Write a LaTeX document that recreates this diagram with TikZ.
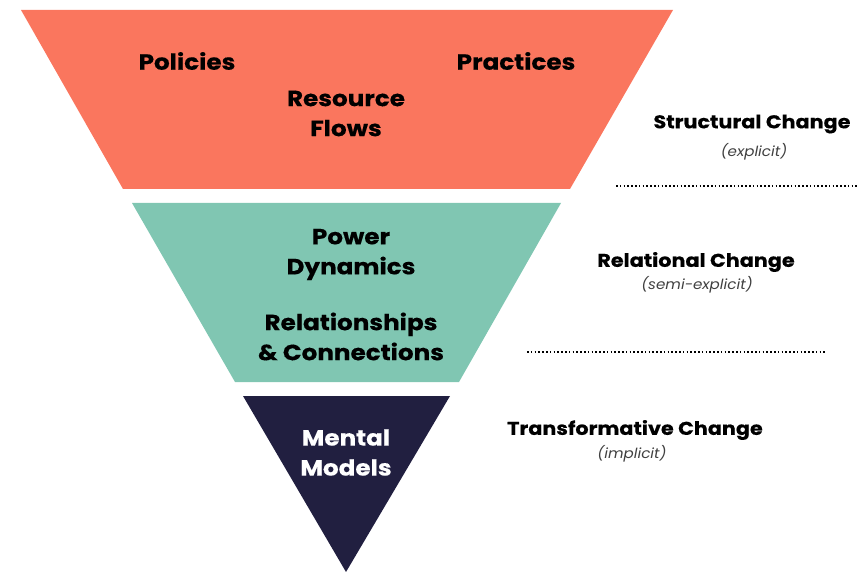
\documentclass[tikz,border=0pt]{standalone}
\usepackage{fontspec}
\setmainfont{Poppins}
\newfontfamily\widefont{Poppins}[FakeStretch=1.12, BoldFeatures={FakeBold=0.4}]
\newfontfamily\widesub{Poppins}[FakeStretch=1.08]
\begin{document}
\begin{tikzpicture}[x=1pt,y=-1pt,
  lbl/.style={font=\widefont\bfseries\fontsize{22}{30}\selectfont, align=center, text=black, inner sep=0pt},
  side/.style={font=\widefont\bfseries\fontsize{18.5}{20}\selectfont, inner sep=0pt},
  sub/.style={font=\widesub\itshape\fontsize{14}{15}\selectfont, text=black!75, inner sep=0pt},
  sep/.style={line width=2pt, dash pattern=on 1.6pt off 2.2pt}]
\useasboundingbox (0,0) rectangle (867,572);
\definecolor{coral}{RGB}{250,118,94}
\definecolor{mint}{RGB}{128,198,178}
\definecolor{navy}{RGB}{33,31,64}
\fill[coral] (21,10) -- (673,10) -- (570,189) -- (123,189) -- cycle;
\fill[mint] (132,203) -- (561,203) -- (459,382) -- (235,382) -- cycle;
\fill[navy] (243,396) -- (450,396) -- (346,572) -- cycle;
\node[lbl] (pol) at (187,61) {Policies};
\node[lbl] (pra) at (516,61) {Practices};
\node[lbl] (res) at (346,113.5) {Resource\\Flows};
\node[lbl] (pow) at (351,254.5) {Power\\Dynamics};
\node[lbl] (rel) at (351,336.5) {Relationships\\\& Connections};
\node[lbl, text=white] (men) at (346,452.5) {Mental\\Models};
\node[side] (sc) at (752,124) {Structural Change};
\node[sub] (sce) at (754,152) {(explicit)};
\node[side] (rc) at (696,262) {Relational Change};
\node[sub] (rce) at (697,285) {(semi-explicit)};
\node[side] (tc) at (635,430) {Transformative Change};
\node[sub] (tce) at (632,454) {(implicit)};
\coordinate (d1a) at (616,186);
\coordinate (d1b) at (858,186);
\coordinate (d2a) at (527,352);
\coordinate (d2b) at (825,352);
\draw[sep] (d1a) -- (d1b);
\draw[sep] (d2a) -- (d2b);
\end{tikzpicture}
\end{document}
